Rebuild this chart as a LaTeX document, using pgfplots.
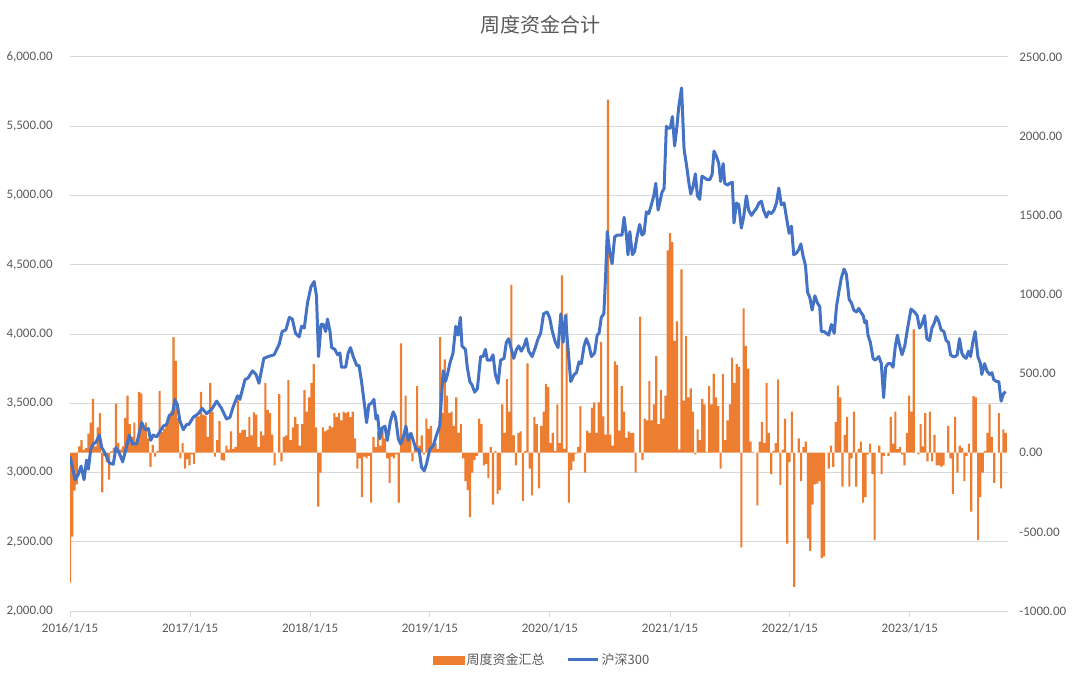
\documentclass[border=0pt]{standalone}
\usepackage{fontspec}
\setmainfont{Carlito}
\newfontfamily\cjk{Noto Sans CJK SC}
\usepackage{pgfplots}
\pgfplotsset{compat=1.18}
\definecolor{barorange}{HTML}{ED7D31}
\definecolor{lineblue}{HTML}{4472C4}
\definecolor{gridgray}{HTML}{D9D9D9}
\definecolor{txtgray}{HTML}{595959}
\begin{document}
\begin{tikzpicture}
\useasboundingbox (0,0) rectangle (810pt,511.5pt);
\pgfplotsset{base/.style={at={(52.5pt,53.25pt)}, anchor=south west, width=703.5pt, height=415.5pt, scale only axis, xmin=0, xmax=408},
 lab/.style={font=\fontsize{9.75}{11}\selectfont, text=txtgray}}
% axis 1: grid, left labels, dates
\begin{axis}[base, ymin=2000, ymax=6000,
  ytick={2000,2500,3000,3500,4000,4500,5000,5500,6000},
  yticklabels={{2,000.00},{2,500.00},{3,000.00},{3,500.00},{4,000.00},{4,500.00},{5,000.00},{5,500.00},{6,000.00}},
  ymajorgrids, grid style={gridgray, line width=0.75pt},
  axis x line*=bottom, axis y line*=left,
  y axis line style={draw=none}, x axis line style={gridgray, line width=0.75pt},
  xtick={0,52.29,104.43,156.57,208.71,261,313.14,365.29},
  xticklabels={2016/1/15,2017/1/15,2018/1/15,2019/1/15,2020/1/15,2021/1/15,2022/1/15,2023/1/15},
  tick align=outside, major tick length=4.5pt,
  xtick style={gridgray, line width=0.75pt}, ytick style={draw=none},
  ticklabel style={lab}, yticklabel style={xshift=-5pt}, xticklabel style={yshift=-1pt}]
\addplot[draw=none] coordinates {(0,2000) (408,6000)};
\end{axis}
% axis 2: bars
\begin{axis}[base, ymin=-1000, ymax=2500, axis y line*=right, axis x line=none,
  y axis line style={draw=none}, ytick style={draw=none},
  ytick={-1000,-500,0,500,1000,1500,2000,2500},
  yticklabels={-1000.00,-500.00,0.00,500.00,1000.00,1500.00,2000.00,2500.00},
  yticklabel style={lab, xshift=5pt}, ybar, bar width=1.6pt]
\addplot[fill=barorange, draw=none] coordinates {
(0,-820) (1,-530) (2,-240) (3,-200) (4,40) (5,80) (6,20) (7,30) (8,120) (9,190)
(10,340) (11,40) (12,160) (13,250) (14,-250) (15,-20) (16,-60) (17,-170) (18,10) (19,30)
(20,310) (21,60) (22,20) (23,40) (24,220) (25,360) (26,180) (27,100) (28,190) (29,70)
(30,385) (31,375) (32,160) (33,190) (34,90) (35,-90) (36,50) (37,-25) (38,10) (39,390)
(40,130) (41,150) (42,180) (43,240) (44,260) (45,730) (46,580) (47,220) (48,-35) (49,60)
(50,-100) (51,-40) (52,-80) (53,-10) (54,-70) (55,230) (56,230) (57,385) (58,240) (59,235)
(60,100) (61,440) (62,260) (63,-25) (64,80) (65,200) (66,-45) (67,-50) (68,45) (69,20)
(70,135) (71,25) (72,35) (73,330) (74,125) (75,145) (76,145) (77,100) (78,225) (79,110)
(80,255) (81,240) (82,35) (83,135) (84,110) (85,440) (86,270) (87,250) (88,115) (89,-80)
(90,0) (91,370) (92,-55) (93,100) (94,110) (95,460) (96,80) (97,160) (98,225) (99,180)
(100,45) (101,180) (102,395) (103,260) (104,350) (105,440) (106,560) (107,160) (108,-340) (109,-125)
(110,160) (111,135) (112,145) (113,170) (114,160) (115,250) (116,225) (117,250) (118,205) (119,260)
(120,250) (121,260) (122,225) (123,260) (124,90) (125,-100) (126,-35) (127,-280) (128,-25) (129,-35)
(130,-20) (131,-315) (132,100) (133,35) (134,135) (135,45) (136,145) (137,90) (138,-35) (139,-190)
(140,-25) (141,-35) (142,-10) (143,-315) (144,690) (145,90) (146,360) (147,110) (148,125) (149,-55)
(150,45) (151,420) (152,45) (153,110) (154,-10) (155,215) (156,150) (157,170) (158,40) (159,60)
(160,25) (161,730) (162,250) (163,590) (164,360) (165,250) (166,260) (167,170) (168,350) (169,125)
(170,180) (171,-35) (172,-180) (173,-237) (174,-407) (175,-125) (176,-45) (177,-20) (178,215) (179,180)
(180,-80) (181,-70) (182,-160) (183,35) (184,-328) (185,10) (186,-260) (187,-237) (188,305) (189,125)
(190,465) (191,260) (192,1060) (193,110) (194,-80) (195,125) (196,135) (197,-305) (198,10) (199,565)
(200,-100) (201,-270) (202,225) (203,180) (204,-226) (205,170) (206,260) (207,435) (208,415) (209,60)
(210,125) (211,10) (212,305) (213,60) (214,1120) (215,25) (216,880) (217,-316) (218,-110) (219,-55)
(220,-5) (221,35) (222,295) (223,0) (224,-125) (225,140) (226,125) (227,285) (228,318) (229,125)
(230,318) (231,700) (232,230) (233,115) (234,2230) (235,115) (236,45) (237,577) (238,555) (239,140)
(240,420) (241,260) (242,95) (243,135) (244,125) (245,125) (246,-125) (247,0) (248,860) (249,-45)
(250,215) (251,205) (252,453) (253,205) (254,306) (255,611) (256,180) (257,395) (258,215) (259,360)
(260,1278) (261,1387) (262,1330) (263,706) (264,830) (265,20) (266,1158) (267,329) (268,736) (269,350)
(270,406) (271,260) (272,-10) (273,147) (274,80) (275,340) (276,305) (277,5) (278,420) (279,305)
(280,498) (281,350) (282,295) (283,-100) (284,498) (285,80) (286,205) (287,305) (288,600) (289,440)
(290,560) (291,543) (292,-598) (293,912) (294,675) (295,532) (296,70) (297,5) (298,0) (299,-333)
(300,70) (301,193) (302,60) (303,440) (304,125) (305,-135) (306,10) (307,60) (308,463) (309,-203)
(310,20) (311,215) (312,-575) (313,-60) (314,260) (315,-847) (316,0) (317,90) (318,-180) (319,35)
(320,70) (321,-542) (322,-620) (323,-328) (324,-200) (325,-195) (326,-180) (327,-666) (328,-655) (329,0)
(330,-100) (331,45) (332,-90) (333,193) (334,424) (335,350) (336,-215) (337,113) (338,226) (339,-215)
(340,-35) (341,260) (342,-215) (343,23) (344,70) (345,-315) (346,-280) (347,-10) (348,57) (349,-135)
(350,-552) (351,0) (352,45) (353,-135) (354,-20) (355,0) (356,-20) (357,226) (358,57) (359,260)
(360,23) (361,35) (362,-10) (363,-80) (364,125) (365,360) (366,260) (367,780) (368,0) (369,-10)
(370,180) (371,40) (372,250) (373,-55) (374,260) (375,-55) (376,113) (377,-80) (378,-80) (379,-90)
(380,-80) (381,0) (382,170) (383,-35) (384,-260) (385,226) (386,-125) (387,45) (388,30) (389,-180)
(390,-20) (391,57) (392,-372) (393,358) (394,350) (395,-552) (396,-280) (397,-125) (398,10) (399,125)
(400,305) (401,100) (402,-190) (403,0) (404,250) (405,-225) (406,147) (407,125)
};
\end{axis}
% axis 3: line + legend
\begin{axis}[base, ymin=2000, ymax=6000, hide axis,
  legend style={at={(0.504,-0.0884)}, anchor=center, draw=none, fill=none,
    font=\cjk\fontsize{9.75}{11}\selectfont, text=txtgray, legend columns=2,
    /tikz/every even column/.append style={column sep=14pt}},
  legend cell align=left]
\addlegendimage{legend image code/.code={\fill[barorange] (0pt,-3pt) rectangle (22.5pt,3pt);}}
\addlegendentry{周度资金汇总}
\addlegendimage{legend image code/.code={\draw[lineblue, line width=2.25pt] (0pt,0pt) -- (22.5pt,0pt);}}
\addlegendentry{沪深300}
\addplot[lineblue, line width=2.25pt, line join=round, forget plot] coordinates {
(0,3116) (2.2,2948) (3.6,2986) (4.8,3046) (6.1,2948) (7.2,3090) (8,3025) (9,3167) (10.1,3206) (11.3,3219)
(12.8,3270) (13.8,3180) (15.2,3141) (17.1,3069) (18.8,3059) (20,3180) (21.4,3141) (22.9,3077) (24.3,3167) (25.8,3270)
(27.2,3206) (29,3206) (31.2,3361) (32.6,3309) (34.1,3317) (35.1,3232) (36.2,3270) (37.7,3257) (39.1,3296) (40.6,3335)
(42,3347) (43.2,3412) (44.6,3425) (45.6,3528) (46.7,3489) (47.8,3373) (49.3,3309) (50.7,3347) (51.7,3347) (53.6,3399)
(55.8,3425) (57.5,3463) (59.4,3425) (61.6,3456) (63.8,3515) (65.9,3463) (68.1,3386) (69.6,3399) (71,3476) (72.9,3554)
(73.9,3528) (76.1,3670) (77.5,3683) (79.4,3734) (80.9,3708) (82.2,3644) (84.3,3824) (86.2,3837) (88.8,3850) (91,3927)
(92.3,4018) (93.9,4030) (95.4,4120) (96.7,4108) (98.1,4005) (99.7,3979) (100.7,4056) (101.9,4043) (103.3,4224) (104.8,4340)
(106.2,4379) (107.2,4276) (108.1,3837) (109.2,4069) (110.2,4069) (111.2,4018) (112,4108) (113.1,4018) (113.8,3902) (115.2,3889)
(116.4,3850) (117.4,3863) (118.1,3760) (119.9,3760) (121,3863) (122,3902) (123.2,3837) (124.7,3773) (125.7,3773) (126.8,3657)
(128,3502) (129,3360) (130,3489) (131.2,3502) (132.2,3528) (133.1,3386) (133.8,3412) (134.8,3244) (135.8,3322) (137,3335)
(138,3232) (139.4,3373) (140.6,3438) (141.6,3399) (142.8,3244) (143.8,3206) (145,3257) (146.1,3335) (147.1,3232) (148.3,3283)
(149.3,3232) (150.5,3167) (151.8,3167) (152.9,3038) (154.1,3012) (155.1,3064) (156.5,3167) (158,3193) (159.4,3270) (160.8,3335)
(162.3,3734) (163.3,3657) (164.2,3708) (165.2,3786) (166.6,3863) (167.8,4056) (168.8,3992) (169.8,4120) (170.5,3914) (172,3889)
(172.8,3760) (173.9,3657) (174.9,3631) (176,3580) (177.2,3606) (178.6,3837) (179.7,3837) (180.7,3889) (181.5,3811) (182.9,3811)
(184,3850) (185,3708) (186.2,3644) (187.3,3811) (188.8,3824) (189.8,3940) (190.8,3966) (192,3889) (193,3824) (194.2,3889)
(195.2,3914) (196.3,3876) (197.5,3914) (198.5,3966) (199.5,3876) (201,3837) (202.4,3902) (203.6,3966) (204.7,4005) (206,4146)
(207.5,4159) (208.6,4120) (209.8,4018) (211.1,3940) (212.3,3902) (213.5,4146) (214.5,3940) (215.5,4133) (216.4,3940) (217.8,3657)
(219.3,3708) (220.3,3721) (221.4,3799) (222.4,3786) (223.6,3914) (224.6,3966) (225.8,3914) (226.8,3837) (228.2,3863) (229.3,3992)
(230.1,4005) (231.1,4120) (232.2,4146) (233,4430) (233.7,4739) (234.8,4585) (235.8,4508) (236.9,4701) (238,4714) (239.1,4714)
(240.1,4714) (241,4843) (242,4714) (242.7,4572) (243.5,4739) (244.6,4572) (245.6,4598) (246.6,4701) (247.8,4791) (248.8,4714)
(249.7,4727) (250.7,4882) (251.7,4869) (252.9,4933) (253.9,4998) (254.8,5088) (255.8,4894) (256.5,4946) (257.5,5024) (258.4,5050)
(259.4,5500) (260.1,5487) (261.1,5487) (262,5570) (263,5358) (264,5500) (264.8,5642) (266,5776) (267.1,5333) (268.3,5204)
(269.1,5101) (270,5011) (271,5062) (272,5157) (272.9,4998) (273.9,4972) (274.9,5140) (276.1,5127) (277.2,5114) (278.3,5114)
(279.3,5153) (280.1,5320) (281.2,5281) (282.2,5230) (283,5101) (284.1,5230) (284.8,5088) (286,5075) (287,5088) (288.1,5096)
(288.8,4802) (289.9,4946) (290.9,4933) (292,4765) (293,4843) (294.2,4998) (295.2,4894) (296.4,4856) (297.4,4882) (298.6,4907)
(299.7,4946) (300.7,4959) (301.7,4894) (302.9,4843) (303.9,4882) (305.1,4869) (306.2,4894) (307.3,4946) (308.3,5054) (309.4,4933)
(310.6,4946) (312,4804) (312.8,4727) (313.8,4779) (314.8,4572) (316,4585) (317,4611) (317.9,4650) (318.9,4560) (319.9,4495)
(320.8,4302) (321.8,4263) (322.8,4173) (324,4276) (325.1,4224) (326.1,4198) (326.8,4018) (328,4018) (329,4005) (330,3992)
(331.2,4069) (332.4,4005) (333.4,4198) (334.4,4302) (335.5,4405) (336.7,4469) (337.7,4430) (338.9,4250) (339.9,4224) (340.9,4173)
(342.1,4159) (343.1,4185) (343.9,4159) (345,4133) (345.7,4082) (346.4,4095) (347.1,3992) (348.1,3940) (349.3,3824) (350.3,3811)
(351.8,3837) (352.9,3786) (353.9,3541) (354.8,3760) (355.8,3786) (357,3786) (358,3760) (359,3914) (359.9,3992) (360.9,3914)
(361.9,3850) (363.1,3914) (364.3,4040) (365.8,4180) (367.3,4159) (368.5,4133) (369.5,4043) (370.5,4069) (371.7,4133) (372.7,3966)
(373.9,3953) (374.9,4043) (376,4082) (376.8,4126) (377.8,4095) (378.9,4030) (380.1,4018) (381.1,3953) (382.1,3940) (383,3850)
(384,3837) (385,3837) (385.9,3850) (386.9,3966) (387.9,3863) (388.8,3837) (389.8,3824) (390.8,3876) (391.7,3837) (392.7,3940)
(393.7,4018) (394.9,3837) (396,3786) (396.6,3708) (397.8,3786) (398.8,3734) (400,3708) (401,3721) (401.8,3670) (403.1,3657)
(404,3657) (405,3515) (406,3567) (406.9,3585)
};
\end{axis}
\node[font=\cjk\fontsize{15}{18}\selectfont, text=txtgray] at (405pt,492.75pt) {周度资金合计};
\end{tikzpicture}
\end{document}
